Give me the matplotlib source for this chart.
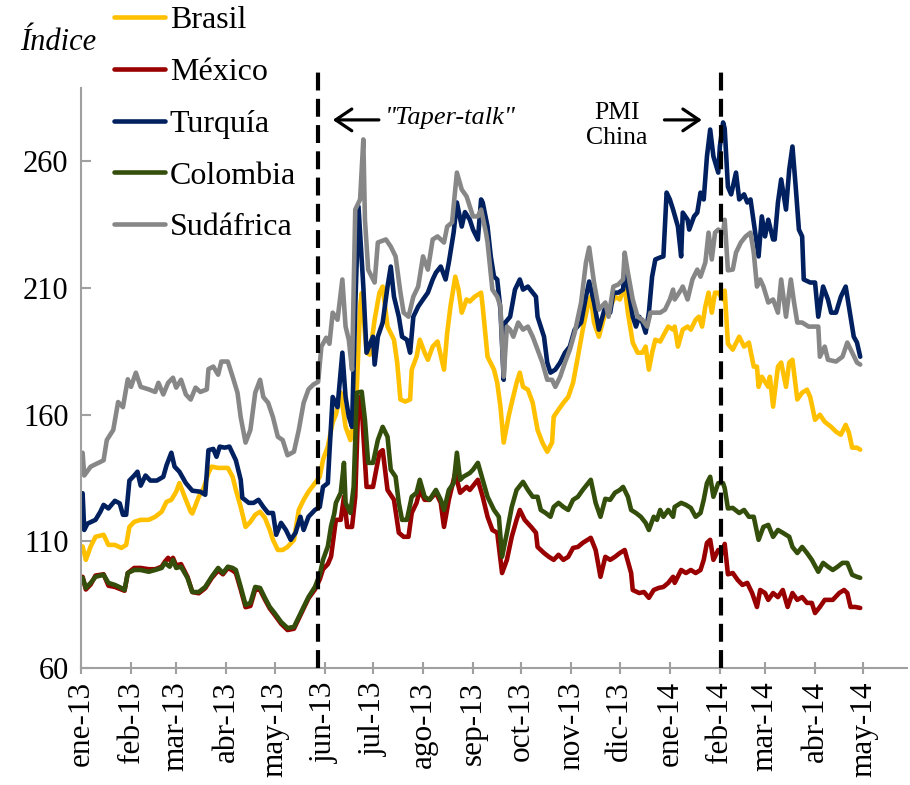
import matplotlib
matplotlib.use('Agg')
import matplotlib.pyplot as plt
import pandas as pd

base = pd.Timestamp('2013-01-01')

# (days since 2013-01-01, index value)
brasil = [(1,108),(3,102.7),(6,108),(9,111.8),(14,112.6),(17,108.6),(21,108.6),(25,107.4),(28,108.6),(30,115.7),(33,117.7),(37,118.5),(42,118.5),(46,119.7),(50,121.7),(53,125.6),(56,126.4),(59,129.6),(61,133),(65,126.4),(68,121.7),(69,121),(73,127.6),(76,131),(79,137),(81,139.5),(85,139),(91,139),(94,135.5),(96,130.3),(99,123.6),(102,115.7),(105,117.7),(108,120.5),(111,121.7),(114,119.3),(117,114.5),(119,110.6),(122,106.6),(125,106.6),(128,107.8),(132,110.6),(135,122.4),(138,126.4),(141,129.6),(145,133),(148,135.5),(150,142.2),(153,147.4),(156,157),(158,160),(161,168.7),(164,155.2),(167,150),(169,158),(171,171),(173,202.7),(174,208),(177,184.5),(179,183.7),(182,197.5),(185,208.2),(187,210.6),(190,194.8),(194,189.6),(196,180.6),(198,166),(201,165.2),(204,166),(205,177.8),(208,182.9),(210,189.6),(213,184.5),(215,181.7),(218,186.9),(221,188.9),(225,177.8),(227,192.4),(229,202.7),(232,214.5),(234,209.4),(236,200.3),(239,205.5),(241,204.7),(244,206.6),(248,208.2),(249,202.7),(252,182.9),(256,177.8),(258,172.6),(260,163.2),(262,149),(265,159.2),(267,164.7),(270,172.6),(272,176.6),(274,171),(277,169.9),(280,164.7),(283,154),(286,149),(289,145.4),(292,149),(293,159.2),(296,162),(299,164.7),(302,167),(305,172.6),(308,182.9),(311,193.6),(314,202.7),(316,206.6),(318,196.4),(321,190.8),(325,200.3),(328,202.7),(331,206.6),(334,205.5),(337,210.6),(339,200.3),(342,188.5),(345,184.5),(348,184.5),(350,186.9),(352,177.8),(354,184.5),(356,189.6),(359,188.9),(362,192.4),(364,194.8),(367,193.6),(368,194.8),(370,186.9),(373,193.6),(376,194.8),(378,193.6),(381,197.5),(383,198.7),(385,194.8),(387,202.7),(389,208.2),(391,200.3),(393,208.2),(395,208.2),(398,205.5),(399,209),(401,188),(404,185.7),(408,190.8),(411,186.9),(414,188.5),(417,179),(419,179),(420,171),(422,175),(426,171),(427,175),(429,163.2),(432,179),(434,180.6),(437,171),(439,180.6),(441,181.7),(444,166),(447,168.7),(450,169.9),(452,167),(455,158),(458,160),(461,157.2),(465,155.2),(468,153.3),(471,152.1),(474,156),(476,152.9),(478,147),(481,147),(483,146.2)]

mexico = [(1,96),(3,91),(6,93),(9,96.5),(14,97),(17,92.5),(21,92),(25,91),(27,90.5),(29,97.5),(33,99.5),(37,99.5),(42,99),(46,99),(50,100),(52,102),(54,103.5),(56,102),(57,103.5),(59,100.5),(62,101),(66,96),(69,90),(73,89.5),(77,91.5),(81,95.5),(85,98.5),(88,97),(91,99.5),(94,98.5),(96,97.5),(99,91),(102,84),(105,84.5),(108,91),(111,90.8),(114,87),(117,83.5),(120,81),(124,77.5),(128,75),(132,75.5),(135,79.5),(138,83.5),(141,87.5),(145,91),(148,95),(150,99),(153,101),(155,104),(158,118.5),(161,118.5),(163,127.6),(165,115.7),(168,115.7),(170,127.6),(172,167),(174,163),(177,131.5),(181,131.5),(185,145),(187,146),(190,130.3),(194,126.4),(197,113.4),(200,111.8),(203,111.8),(205,121.2),(208,125.2),(210,130.3),(213,126.4),(216,126.4),(220,129.2),(223,125.2),(225,115.7),(228,126.4),(232,137),(235,129.2),(239,131.5),(241,130.3),(246,134.3),(249,127.6),(252,119.7),(255,114.5),(258,113.4),(261,97.5),(264,102.7),(267,111.8),(270,118.5),(272,122.4),(275,118.5),(279,115.7),(282,113.4),(283,107.8),(287,105.4),(290,103.9),(293,102.7),(296,104.7),(299,102.7),(302,103.9),(305,107.4),(308,107.8),(311,109.4),(316,111.4),(319,106.6),(322,96),(325,103.9),(328,102.7),(331,103.9),(334,105.4),(337,106.6),(341,97.5),(342,90.8),(346,89.6),(349,90),(352,87.7),(355,90.8),(358,91.6),(361,92),(364,93.6),(367,96),(368,93.6),(372,98.7),(375,97.5),(378,98.7),(381,97.5),(384,98.7),(386,102.7),(388,109.4),(390,110.6),(392,102.7),(395,106.6),(398,105.4),(399,109),(401,97),(404,97.5),(407,94.8),(410,92.8),(413,93.6),(416,89.6),(419,84.1),(421,90.8),(424,89.6),(426,86.9),(429,89.6),(432,88),(435,90.8),(438,84.1),(441,89.6),(444,86.9),(447,88),(450,85.7),(453,85.7),(455,81.7),(458,84.1),(461,86.9),(466,86.9),(470,89.6),(473,90.8),(475,89.6),(477,84.1),(480,84.1),(483,83.7)]

turquia = [(1,129),(2,114.5),(4,117),(9,118.5),(12,121.7),(14,124.4),(17,123),(21,126),(24,125),(26,120.5),(28,120.5),(30,134),(33,136),(35,137.5),(37,132),(40,136),(43,134),(47,134),(51,135.5),(53,140),(56,145),(58,139.5),(61,137.5),(65,133),(69,130),(74,129.6),(77,128.4),(79,146),(82,146.5),(84,143.4),(86,147.4),(89,147),(92,147.4),(96,142),(99,134.3),(100,127.2),(104,125.2),(107,125.2),(110,126.4),(113,123.6),(116,121.2),(119,121.2),(121,112.6),(124,117.3),(127,114.5),(130,110.6),(133,113.4),(136,119.7),(138,114.5),(141,119.7),(145,122.4),(148,123.6),(150,131.5),(153,133),(154,145),(156,167),(159,163),(162,184.5),(164,167),(166,159.2),(168,155.2),(170,202.7),(172,242.2),(175,210.6),(177,184.5),(181,190.8),(182,179.8),(184,190.8),(187,196.4),(190,210.6),(192,218.5),(194,206.6),(197,198.7),(199,190.8),(202,189.6),(204,184.5),(206,198.7),(209,202.7),(212,205.5),(215,208.2),(218,213.4),(220,216.1),(223,218.5),(226,213.4),(228,220.1),(231,232),(233,243.8),(236,234.3),(238,240),(241,237),(243,233.1),(246,229.2),(248,245),(249,243.8),(252,234.3),(254,222.5),(256,214.5),(258,213.4),(260,201.5),(262,173.8),(263,196.4),(266,198.7),(269,209.4),(272,213.4),(274,209.4),(277,210.6),(282,206.6),(283,198.7),(287,190.8),(289,180.6),(291,176.6),(294,177.8),(297,180.6),(300,184.5),(303,186.9),(306,193.6),(310,196.4),(313,206.6),(315,212.6),(318,204.3),(321,193.6),(325,202.7),(328,200.3),(330,208.2),(333,208.2),(336,209.4),(337,218.5),(339,210.6),(342,198.7),(344,194.8),(346,198.7),(348,196.4),(350,192.4),(352,200.3),(354,214.5),(356,221.3),(359,222.1),(361,222.5),(363,247.7),(365,245),(367,241),(370,234.3),(372,222.5),(373,239.8),(376,237),(377,233.1),(380,238.3),(382,239.8),(384,247.7),(386,245),(388,262),(390,272.6),(392,262),(395,255.6),(396,265.9),(398,275.4),(399,273),(401,250),(403,247),(406,255.6),(408,245),(411,247),(413,243.8),(415,245),(417,235.9),(420,222.5),(422,238.3),(424,230.4),(426,237),(429,229.2),(430,229.2),(432,243.8),(434,252.9),(437,241),(439,256.8),(441,265.9),(443,250.1),(445,233.1),(447,230.4),(448,213.4),(452,212.2),(455,212.2),(457,198.7),(460,210.6),(463,205.5),(465,200.3),(468,200.3),(471,206.6),(474,210.6),(476,202.7),(479,190.8),(481,188.5),(483,182.9)]

colombia = [(1,95.6),(3,91.6),(6,93.6),(9,96),(14,96.8),(17,93.6),(21,92.8),(25,91.6),(27,90.8),(29,97.5),(33,98.7),(37,98.7),(42,98),(46,98.7),(50,99.5),(52,101.5),(55,100),(57,102.7),(59,99.5),(62,100),(66,95.6),(69,90),(73,90),(77,92),(81,96),(85,99.5),(88,97.5),(91,100),(94,99.5),(96,98.7),(99,92),(102,84.9),(105,85.7),(108,92),(111,91.6),(114,87.7),(117,84.1),(120,81.7),(124,78.2),(128,75.8),(132,76.2),(135,80.2),(138,84.1),(141,88),(145,92),(148,96.8),(150,102.7),(153,108),(155,116),(157,121),(158,125.2),(161,129.2),(163,141),(164,125.2),(167,121.2),(169,131.5),(171,168.7),(174,169.1),(176,158),(178,141),(181,141),(184,150),(187,155.2),(190,151.3),(192,138.3),(195,135.5),(197,125.2),(199,118.5),(202,118.5),(205,127.6),(208,129.2),(210,134.3),(213,127.6),(216,126.4),(220,130.3),(223,126.4),(225,122.4),(228,130.3),(231,133),(233,145),(235,134.3),(237,135.5),(241,137),(243,138.3),(246,141),(249,134.3),(252,127.6),(256,122.4),(259,119.7),(261,103.9),(264,113.4),(267,123.6),(270,130.3),(274,133.5),(277,130.3),(280,127.6),(283,127.6),(285,122.4),(288,121.2),(291,119.7),(293,123.6),(296,125.2),(299,123.6),(302,122.4),(305,126.4),(308,127.6),(311,130.3),(316,134.3),(319,125.2),(322,119.7),(325,126.8),(328,126.4),(331,129.2),(334,130.3),(336,131.5),(339,127.6),(341,122.4),(344,121.2),(347,119.7),(350,117.3),(352,114.5),(355,119.7),(357,118.5),(359,122.4),(361,119.7),(364,122.4),(367,119.7),(368,123.6),(372,125.2),(375,124.4),(378,123.2),(381,119.7),(384,121.2),(386,126.4),(388,133),(390,135.5),(392,127.6),(395,133),(398,133),(399,131),(401,123),(404,123.2),(408,121.2),(411,122.4),(414,119.7),(417,119.7),(420,110.6),(423,115.7),(426,116.5),(429,111.8),(432,114.5),(435,113.4),(439,111.8),(441,107.8),(444,105.4),(447,107.8),(450,105.4),(453,102.7),(457,98),(460,101.5),(463,100),(466,98.7),(469,100),(472,101.5),(475,101.5),(478,96.8),(481,96),(483,95.6)]

sudafrica = [(1,145),(2,136),(6,139.5),(14,142),(16,150),(20,154),(23,165),(26,163),(29,174),(31,171),(34,176.6),(37,171),(42,170),(46,169),(48,172.6),(51,168),(54,172.6),(57,174.6),(59,170.7),(62,173.8),(65,168),(68,166),(71,170.7),(74,169),(78,170),(79,178),(82,179),(85,175.8),(87,181),(91,181),(94,175),(97,168.7),(99,159),(102,149),(105,154),(108,168.7),(111,173.8),(113,167),(116,164.7),(119,159),(122,151.3),(125,150),(128,144),(132,145.4),(135,154),(138,164.7),(141,170),(144,171.9),(147,173),(149,186.9),(152,190.4),(154,188),(156,200.3),(159,197.5),(162,213.4),(164,194.8),(166,189.6),(168,177.8),(170,241),(173,245),(175,268.7),(176,237),(178,217.3),(182,212.2),(184,228),(189,229.2),(192,226.4),(195,222.5),(198,208.2),(200,200.3),(203,198.7),(206,206.6),(209,210.6),(212,222.5),(215,217.3),(218,229.2),(221,230.4),(225,228),(227,234.3),(230,235.9),(233,255.6),(236,248.9),(239,246.2),(243,238.3),(246,238.3),(248,241),(251,231.9),(252,228),(255,209.4),(258,206.6),(260,202.7),(262,175),(264,194.8),(266,193.6),(268,190.8),(271,196.4),(274,193.6),(277,194.8),(280,190.8),(283,185.7),(286,180.6),(289,173.8),(292,173.8),(294,171),(297,175),(300,180.6),(303,185.7),(306,192.4),(310,204.3),(313,220.1),(315,226),(318,212.2),(321,201.5),(325,204.3),(327,198.7),(330,210.6),(333,211.4),(336,213.4),(337,224),(339,216.1),(342,205.5),(345,198.7),(348,197.5),(351,194.8),(353,200.3),(356,200.3),(359,200.3),(362,201.5),(365,205.5),(367,209.4),(368,205.5),(372,209.4),(373,210.6),(376,205.5),(379,213.4),(382,217.3),(384,214.5),(387,220.1),(389,231.9),(391,221.3),(393,231.9),(395,233.1),(398,231.9),(399,237),(401,217),(404,217.3),(406,224),(409,228),(412,230.4),(415,231.9),(417,224),(419,210.6),(421,213.4),(423,210.6),(426,204.3),(429,205.5),(432,200.3),(434,213.4),(437,198.7),(440,213.4),(442,204.3),(444,196.4),(447,196.4),(451,194.8),(457,194.8),(458,182.9),(461,186.9),(463,181.7),(468,181),(472,182.9),(475,188.5),(478,184.5),(481,180.6),(483,179.8)]

series_names = ['Brasil', 'México', 'Turquía', 'Colombia', 'Sudáfrica']
series_data = [brasil, mexico, turquia, colombia, sudafrica]
series_colors = ['#FFC000', '#990000', '#002060', '#344E0B', '#878787']

month_labels = ['ene-13', 'feb-13', 'mar-13', 'abr-13', 'may-13', 'jun-13', 'jul-13',
                'ago-13', 'sep-13', 'oct-13', 'nov-13', 'dic-13', 'ene-14', 'feb-14',
                'mar-14', 'abr-14', 'may-14']
month_ticks = pd.date_range('2013-01-01', '2014-05-01', freq='MS')
y_ticks = [60, 110, 160, 210, 260]
event_dates = [pd.Timestamp('2013-05-28'), pd.Timestamp('2014-02-02')]

plt.rcParams['font.family'] = ['Liberation Serif', 'DejaVu Serif']

W, H = 910, 785
fig = plt.figure(figsize=(W / 100, H / 100), dpi=100)
ax = fig.add_axes([81 / W, 117 / H, 826 / W, 580 / H])

for name, pts, col in zip(series_names, series_data, series_colors):
    dates = [base + pd.Timedelta(days=d) for d, _ in pts]
    vals = [v for _, v in pts]
    ax.plot(dates, vals, color=col, lw=3.3, label=name,
            solid_joinstyle='round', solid_capstyle='round')

ax.set_ylim(60, 289)
ax.set_xlim(base, pd.Timestamp('2014-05-28'))

for d in event_dates:
    ax.plot([d, d], [60, 295.5], color='black', lw=3.0,
            linestyle=(0, (4.3, 2.0)), clip_on=False, zorder=5)

for s in ['top', 'right']:
    ax.spines[s].set_visible(False)
for s in ['left', 'bottom']:
    ax.spines[s].set_color('#A0A0A0')
    ax.spines[s].set_linewidth(1.5)

ax.set_xticks(month_ticks)
ax.set_xticklabels(month_labels, rotation=90)
ax.set_yticks(y_ticks)
ax.tick_params(axis='x', direction='inout', length=9, width=1.5, color='#A0A0A0',
               labelsize=22.5, pad=5)
ax.tick_params(axis='y', direction='in', length=7, width=1.5, color='#A0A0A0',
               labelsize=22, pad=9)

# annotations
ax.annotate('', xy=(0.3015, 0.945), xytext=(0.364, 0.945), xycoords='axes fraction',
            arrowprops=dict(arrowstyle='->,head_length=0.4,head_width=0.27',
                            lw=2.3, color='black', mutation_scale=29))
ax.text(0.368, 0.948, '"Taper-talk"', transform=ax.transAxes, style='italic',
        fontsize=19, ha='left', va='center')
ax.annotate('', xy=(0.755, 0.945), xytext=(0.703, 0.945), xycoords='axes fraction',
            arrowprops=dict(arrowstyle='->,head_length=0.4,head_width=0.27',
                            lw=2.3, color='black', mutation_scale=29))
ax.text(0.649, 0.935, 'PMI\nChina', transform=ax.transAxes, fontsize=18.5,
        ha='center', va='center', multialignment='center', linespacing=1.15)

fig.text(20 / W, 1 - 42 / H, 'Índice', style='italic', fontsize=22, ha='left', va='center')

leg = ax.legend(loc='upper left', bbox_to_anchor=(114 / W, 1 - 6 / H),
                bbox_transform=fig.transFigure, frameon=False, fontsize=23,
                handlelength=1.6, handletextpad=0.15, labelspacing=0.70,
                borderpad=0, borderaxespad=0)
for line in leg.get_lines():
    line.set_linewidth(3.3)
    line.set_solid_capstyle('round')

fig.savefig('out.png', dpi=100)
